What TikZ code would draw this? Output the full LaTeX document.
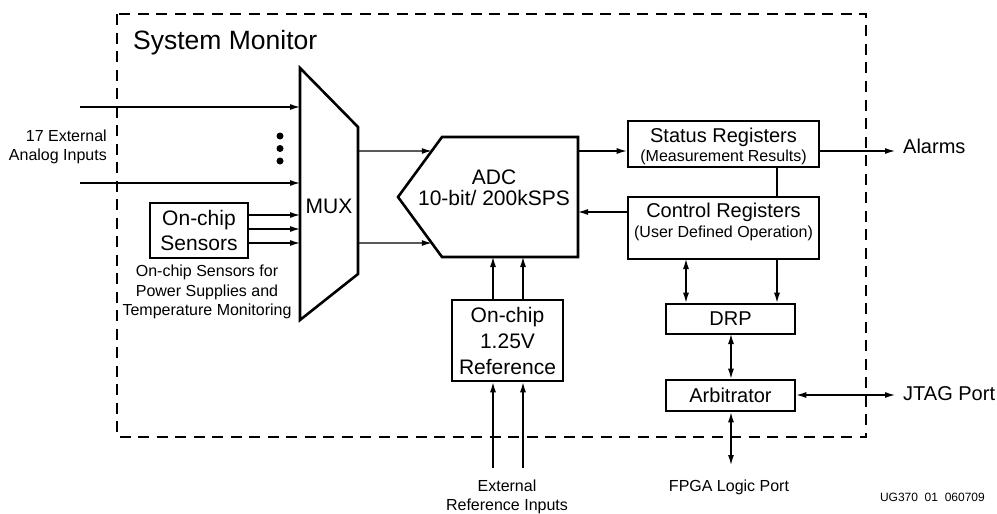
\documentclass[tikz,border=0pt]{standalone}
\usepackage{fontspec}
\setmainfont{Liberation Sans}
\usetikzlibrary{arrows.meta,calc}
\begin{document}
\begin{tikzpicture}[x=1pt,y=-1pt,
  box/.style={draw,line width=2.6pt,inner sep=0pt,align=center},
  arr/.style={line width=1.2pt,-{Latex[length=10pt,width=6pt]}},
  darr/.style={line width=1.2pt,{Latex[length=10pt,width=6pt]}-{Latex[length=10pt,width=6pt]}},
  big/.style={font=\fontsize{21}{25}\selectfont},
  mid/.style={font=\fontsize{20}{21}\selectfont},
  small/.style={font=\fontsize{16}{19.5}\selectfont},
  txt/.style={inner sep=0pt,align=center},
  dot/.style={circle,fill,inner sep=0pt,minimum size=7pt}
]
\useasboundingbox (0,0) rectangle (997,514);
% frame
\draw[line width=1.3pt,dash pattern=on 11pt off 7.5pt] (117,14) rectangle (866,437);
\node[anchor=west,inner sep=0pt,font=\fontsize{26.5}{30}\selectfont] (title) at (133,43) {System Monitor};

% MUX
\coordinate (m1) at (300,68);
\coordinate (m2) at (358,127);
\coordinate (m3) at (358,274);
\coordinate (m4) at (300,320);
\draw[line width=2.6pt,line join=miter] (m1)--(m2)--(m3)--(m4)--cycle;
\node[big,txt] (mux) at (329,206) {MUX};

% external analog inputs
\coordinate (in1) at (80,107);
\coordinate (in2) at (80,183);
\draw[arr] (in1) -- (in1 -| m1);
\draw[arr] (in2) -- (in2 -| m1);
\node[dot] (d1) at (280,136) {};
\node[dot] (d2) at (280,148.5) {};
\node[dot] (d3) at (280,161) {};
\node[small,txt,align=right,anchor=east] (extin) at (107,147) {17 External\\Analog Inputs};

% sensors
\node[box,big,minimum width=98pt,minimum height=55pt] (sens) at (199,230.5) {On-chip\\Sensors};
\coordinate (s1) at (248,215);
\coordinate (s2) at (248,229);
\coordinate (s3) at (248,243);
\draw[arr] (s1) -- (s1 -| m1);
\draw[arr] (s2) -- (s2 -| m1);
\draw[arr] (s3) -- (s3 -| m1);
\node[small,txt] (senscap) at (207,292) {On-chip Sensors for\\Power Supplies and\\Temperature Monitoring};

% ADC
\coordinate (a1) at (442,137);
\coordinate (a2) at (578,137);
\coordinate (a3) at (578,257);
\coordinate (a4) at (442,257);
\coordinate (a5) at (398,197);
\draw[line width=2.6pt,line join=miter] (a1)--(a2)--(a3)--(a4)--(a5)--cycle;
\node[txt,font=\fontsize{21}{20.5}\selectfont] (adc) at (494,188) {ADC\\10-bit/ 200kSPS};
\coordinate (mo1) at (358,151);
\coordinate (mo2) at (358,243);
\draw[arr] (mo1) -- ($(a5)!0.767!(a1)$);
\draw[arr] (mo2) -- ($(a5)!0.767!(a4)$);

% status registers
\node[box,minimum width=191pt,minimum height=46pt] (st) at (723.5,144) {};
\node[mid,txt] (stt1) at (723.5,137) {Status Registers};
\node[small,txt] (stt2) at (723.5,157) {(Measurement Results)};
\coordinate (adcS) at (578,151);
\draw[arr] (adcS) -- (adcS -| st.west);
\coordinate (alE) at (895,151);
\draw[arr] (adcS -| st.east) -- (alE);
\node[mid,txt,anchor=west] (alarms) at (903,146) {Alarms};

% control registers
\node[box,minimum width=191pt,minimum height=62pt] (ct) at (723.5,228) {};
\node[mid,txt] (ctt1) at (723.5,212) {Control Registers};
\node[small,txt] (ctt2) at (723.5,233) {(User Defined Operation)};
\coordinate (sc) at (777,167);
\draw[line width=1.2pt] (sc) -- (sc |- ct.north);
\coordinate (cA) at (628,212);
\draw[arr] (cA) -- (cA -| a2);

% DRP
\node[box,mid,minimum width=129pt,minimum height=30pt] (drp) at (730.5,319) {DRP};
\coordinate (cd1) at (686,259);
\coordinate (cd2) at (777,259);
\draw[darr] (cd1) -- (cd1 |- drp.north);
\draw[arr] (cd2) -- (cd2 |- drp.north);

% Arbitrator
\node[box,mid,minimum width=129pt,minimum height=31pt] (arb) at (730.5,395.5) {Arbitrator};
\coordinate (da) at (731,334);
\draw[darr] (da) -- (da |- arb.north);
\coordinate (jE) at (895,395);
\draw[darr] (arb.east |- jE) -- (jE);
\node[mid,txt,anchor=west] (jtag) at (903,394) {JTAG Port};
\coordinate (fp) at (731,465);
\draw[darr] (arb.south -| fp) -- (fp);
\node[small,txt] (fpga) at (729,487) {FPGA Logic Port};

% Reference
\node[box,font=\fontsize{21}{26}\selectfont,minimum width=111pt,minimum height=81pt] (ref) at (507.5,340.5) {On-chip\\1.25V\\Reference};
\coordinate (r1) at (493,468);
\coordinate (r2) at (523,468);
\draw[arr] (r1 |- ref.north) -- (r1 |- a4);
\draw[arr] (r2 |- ref.north) -- (r2 |- a4);
\draw[arr] (r1) -- (r1 |- ref.south);
\draw[arr] (r2) -- (r2 |- ref.south);
\node[small,txt] (extref) at (507,497) {External\\Reference Inputs};

\node[txt,anchor=east,font=\fontsize{12}{14}\selectfont] (ug) at (985,497) {UG370~~01~~060709};
\end{tikzpicture}
\end{document}
